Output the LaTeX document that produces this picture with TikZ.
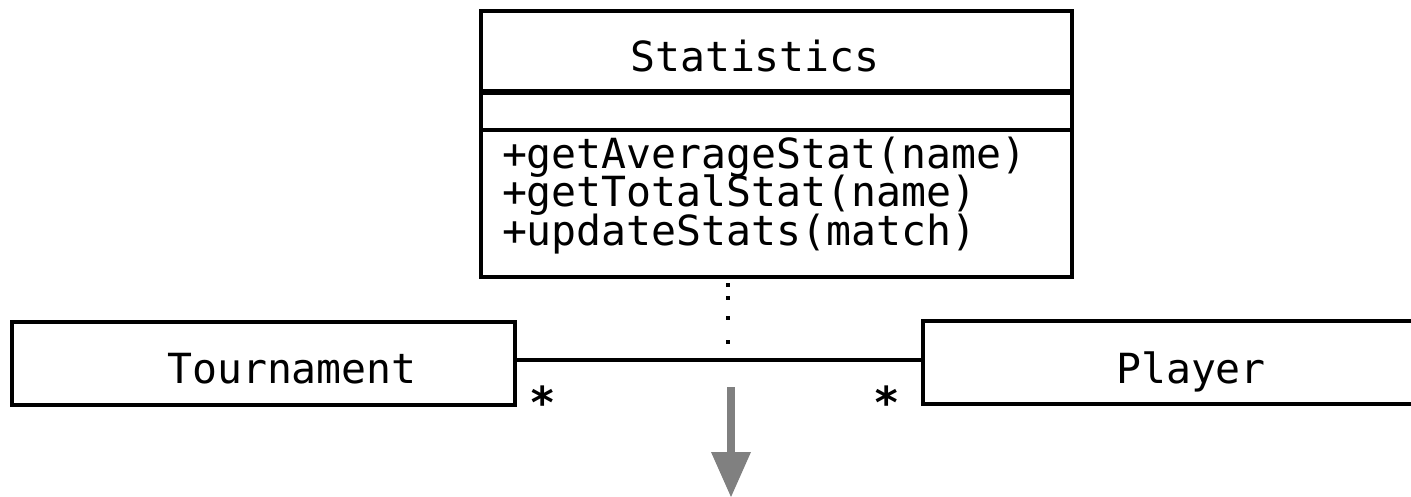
\documentclass[tikz,border=0pt]{standalone}
\usepackage{fontspec}
\setmonofont{DejaVu Sans Mono}
\definecolor{arrowgray}{RGB}{128,128,128}
\begin{document}
\begin{tikzpicture}[x=1pt, y=-1pt,
  every node/.style={inner sep=0pt, outer sep=0pt},
  umlbox/.style={draw, line width=4pt, rectangle},
  umltext/.style={font=\ttfamily\fontsize{41.5}{38}\selectfont, anchor=base},
  multtext/.style={font=\ttfamily\bfseries\fontsize{44}{40}\selectfont, anchor=base},
  assoc/.style={line width=3.5pt},
  linkline/.style={line width=3.5pt,
    dash pattern=on 0pt off 6.25pt on 3.5pt off 9.5pt on 3.5pt off 16.5pt on 3.5pt off 20.5pt on 3.5pt off 40pt},
  flow/.style={line width=8pt, arrowgray}]
\clip (0,0) rectangle (1411,497);

% association class
\node[umlbox, minimum width=591pt, minimum height=266pt] (stats) at (776.5,144) {};
\draw[line width=6pt] ([yshift=-81pt]stats.north west) -- ([yshift=-81pt]stats.north east);
\draw[line width=4pt] ([yshift=-119pt]stats.north west) -- ([yshift=-119pt]stats.north east);
\node[umltext] (statsname) at (755,72) {Statistics};
\node[umltext, anchor=base west] (op1) at (502,169) {+getAverageStat(name)};
\node[umltext, anchor=base west] (op2) at (502,207) {+getTotalStat(name)};
\node[umltext, anchor=base west] (op3) at (502,245) {+updateStats(match)};

% associated classes
\node[umlbox, minimum width=503pt, minimum height=82.5pt] (tour) at (263.5,363.25) {};
\node[umltext] (tname) at (292,383) {Tournament};
\node[umlbox, minimum width=527pt, minimum height=83pt] (player) at (1186.5,362.5) {};
\node[umltext] (pname) at (1191,383) {Player};

% association and its link to the class
\coordinate (mid) at (728,360);
\draw[assoc] (tour.east |- mid) -- (player.west |- mid);
\draw[linkline] (stats.south -| mid) -- (mid);

% multiplicities
\node[multtext] (multL) at (543,418) {*};
\node[multtext] (multR) at (887,418) {*};

% gray arrow
\coordinate (arrowtop) at (731,387);
\coordinate (arrowtip) at (731,497);
\draw[flow] (arrowtop) -- ([yshift=44pt]arrowtip);
\fill[arrowgray] ([xshift=-20pt,yshift=45pt]arrowtip) -- ([xshift=20pt,yshift=45pt]arrowtip) -- (arrowtip) -- cycle;
\end{tikzpicture}
\end{document}
